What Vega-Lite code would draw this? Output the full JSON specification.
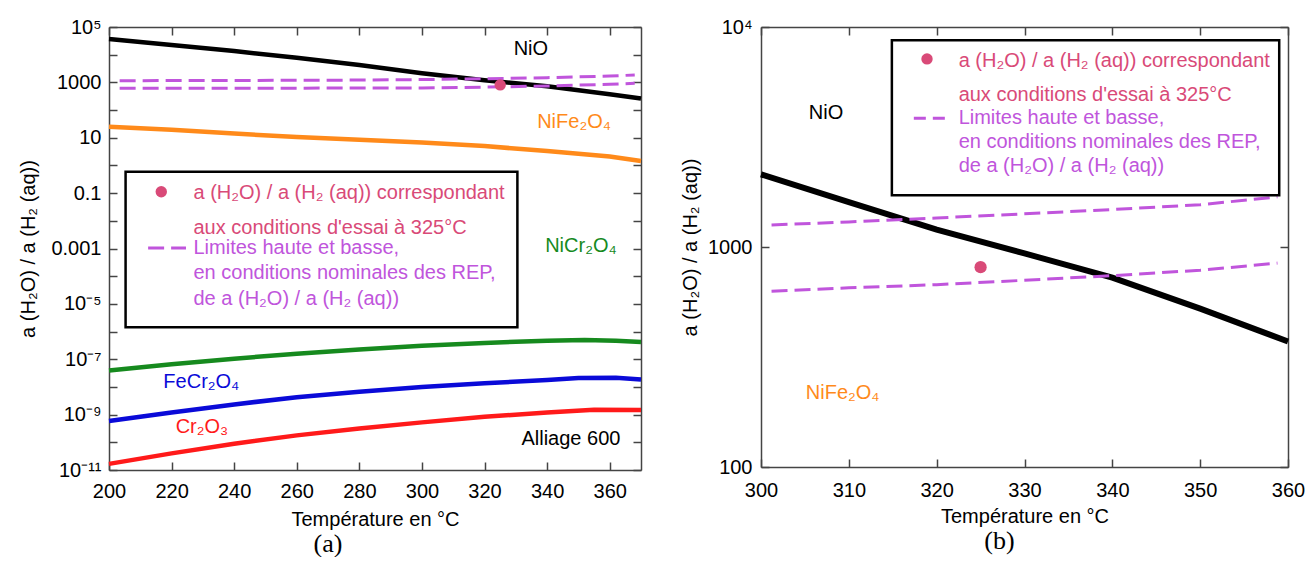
{
  "$schema": "https://vega.github.io/schema/vega-lite/v6.json",
  "background": "white",
  "padding": {"left": 18, "top": 17, "right": 0, "bottom": 0},
  "spacing": 30,
  "config": {
    "view": {"stroke": null},
    "font": "Liberation Sans",
    "axis": {"grid": false, "labelFlush": false, "domainColor": "#444", "domainWidth": 1.5, "tickColor": "#444", "tickWidth": 1.5, "tickSize": -8, "labelColor": "black", "titleColor": "black", "labelFontSize": 20, "titleFontSize": 20, "titleFontWeight": "normal", "labelFont": "Liberation Sans", "titleFont": "Liberation Sans"}
  },
  "datasets": {
    "L": [
      {"T": 200, "v": 37150, "s": "NiO"}, {"T": 210, "v": 28840, "s": "NiO"}, {"T": 220, "v": 22390, "s": "NiO"}, {"T": 240, "v": 13490, "s": "NiO"}, {"T": 260, "v": 7760, "s": "NiO"}, {"T": 280, "v": 4270, "s": "NiO"}, {"T": 300, "v": 2140, "s": "NiO"}, {"T": 320, "v": 1200, "s": "NiO"}, {"T": 340, "v": 725, "s": "NiO"}, {"T": 360, "v": 372, "s": "NiO"}, {"T": 370, "v": 263, "s": "NiO"},
      {"T": 200, "v": 25.1, "s": "NiFe2O4"}, {"T": 220, "v": 19.5, "s": "NiFe2O4"}, {"T": 240, "v": 14.1, "s": "NiFe2O4"}, {"T": 260, "v": 10.7, "s": "NiFe2O4"}, {"T": 280, "v": 8.5, "s": "NiFe2O4"}, {"T": 300, "v": 6.8, "s": "NiFe2O4"}, {"T": 320, "v": 5.0, "s": "NiFe2O4"}, {"T": 340, "v": 3.3, "s": "NiFe2O4"}, {"T": 360, "v": 2.1, "s": "NiFe2O4"}, {"T": 370, "v": 1.45, "s": "NiFe2O4"},
      {"T": 200, "v": 3.9e-8, "s": "NiCr2O4"}, {"T": 220, "v": 6.6e-8, "s": "NiCr2O4"}, {"T": 240, "v": 1.05e-7, "s": "NiCr2O4"}, {"T": 260, "v": 1.58e-7, "s": "NiCr2O4"}, {"T": 280, "v": 2.24e-7, "s": "NiCr2O4"}, {"T": 300, "v": 3.09e-7, "s": "NiCr2O4"}, {"T": 320, "v": 3.89e-7, "s": "NiCr2O4"}, {"T": 340, "v": 4.68e-7, "s": "NiCr2O4"}, {"T": 352, "v": 5.0e-7, "s": "NiCr2O4"}, {"T": 362, "v": 4.68e-7, "s": "NiCr2O4"}, {"T": 370, "v": 4.17e-7, "s": "NiCr2O4"},
      {"T": 200, "v": 5.9e-10, "s": "FeCr2O4"}, {"T": 220, "v": 1.2e-9, "s": "FeCr2O4"}, {"T": 240, "v": 2.34e-9, "s": "FeCr2O4"}, {"T": 260, "v": 4.27e-9, "s": "FeCr2O4"}, {"T": 280, "v": 6.76e-9, "s": "FeCr2O4"}, {"T": 300, "v": 1.0e-8, "s": "FeCr2O4"}, {"T": 320, "v": 1.35e-8, "s": "FeCr2O4"}, {"T": 340, "v": 1.78e-8, "s": "FeCr2O4"}, {"T": 350, "v": 2.09e-8, "s": "FeCr2O4"}, {"T": 362, "v": 2.14e-8, "s": "FeCr2O4"}, {"T": 370, "v": 1.86e-8, "s": "FeCr2O4"},
      {"T": 200, "v": 1.66e-11, "s": "Cr2O3"}, {"T": 220, "v": 3.98e-11, "s": "Cr2O3"}, {"T": 240, "v": 8.9e-11, "s": "Cr2O3"}, {"T": 260, "v": 1.78e-10, "s": "Cr2O3"}, {"T": 280, "v": 3.16e-10, "s": "Cr2O3"}, {"T": 300, "v": 5.25e-10, "s": "Cr2O3"}, {"T": 320, "v": 8.3e-10, "s": "Cr2O3"}, {"T": 340, "v": 1.2e-9, "s": "Cr2O3"}, {"T": 355, "v": 1.51e-9, "s": "Cr2O3"}, {"T": 370, "v": 1.48e-9, "s": "Cr2O3"}
    ],
    "LD": [
      {"T": 203.4, "v": 1150, "s": "haut"}, {"T": 240, "v": 1170, "s": "haut"}, {"T": 280, "v": 1210, "s": "haut"}, {"T": 300, "v": 1260, "s": "haut"}, {"T": 320, "v": 1355, "s": "haut"}, {"T": 340, "v": 1480, "s": "haut"}, {"T": 360, "v": 1690, "s": "haut"}, {"T": 368, "v": 1850, "s": "haut"},
      {"T": 203.4, "v": 615, "s": "bas"}, {"T": 240, "v": 617, "s": "bas"}, {"T": 280, "v": 622, "s": "bas"}, {"T": 300, "v": 630, "s": "bas"}, {"T": 320, "v": 674, "s": "bas"}, {"T": 340, "v": 741, "s": "bas"}, {"T": 360, "v": 850, "s": "bas"}, {"T": 368, "v": 930, "s": "bas"}
    ],
    "P": [{"T": 325, "v": 810}],
    "LT": [
      {"T": 334.8, "v": 16200, "label": "NiO", "s": "NiO"},
      {"T": 348.6, "v": 37, "label": "NiFe₂O₄", "s": "NiFe2O4"},
      {"T": 350.8, "v": 0.00127, "label": "NiCr₂O₄", "s": "NiCr2O4"},
      {"T": 229.5, "v": 1.48e-8, "label": "FeCr₂O₄", "s": "FeCr2O4"},
      {"T": 229.7, "v": 3.55e-10, "label": "Cr₂O₃", "s": "Cr2O3"},
      {"T": 347.6, "v": 1.35e-10, "label": "Alliage 600", "s": "Alliage"}
    ],
    "LB": [{"T": 205.3, "T2": 330.5, "v": 0.597, "v2": 1.44e-6}],
    "LLD": [{"T": 216.7, "v": 0.112}],
    "LLR": [{"T": 212.5, "T2": 224.6, "v": 0.00105}],
    "LLT": [
      {"T": 227, "v": 0.102, "label": "a (H₂O) / a (H₂ (aq)) correspondant", "s": "essai"},
      {"T": 227, "v": 0.0055, "label": "aux conditions d'essai à 325°C", "s": "essai"},
      {"T": 227, "v": 0.00105, "label": "Limites haute et basse,", "s": "REP"},
      {"T": 227, "v": 0.000129, "label": "en conditions nominales des REP,", "s": "REP"},
      {"T": 227, "v": 0.0000151, "label": "de a (H₂O) / a (H₂ (aq))", "s": "REP"}
    ],
    "R": [
      {"T": 300, "v": 2140, "s": "NiO"}, {"T": 310, "v": 1600, "s": "NiO"}, {"T": 320, "v": 1200, "s": "NiO"}, {"T": 330, "v": 935, "s": "NiO"}, {"T": 340, "v": 725, "s": "NiO"}, {"T": 350, "v": 525, "s": "NiO"}, {"T": 360, "v": 372, "s": "NiO"}
    ],
    "RD": [
      {"T": 301.2, "v": 1260, "s": "haut"}, {"T": 310, "v": 1300, "s": "haut"}, {"T": 320, "v": 1355, "s": "haut"}, {"T": 330, "v": 1415, "s": "haut"}, {"T": 340, "v": 1480, "s": "haut"}, {"T": 350, "v": 1556, "s": "haut"}, {"T": 358.8, "v": 1690, "s": "haut"},
      {"T": 301.2, "v": 630, "s": "bas"}, {"T": 310, "v": 652, "s": "bas"}, {"T": 320, "v": 674, "s": "bas"}, {"T": 330, "v": 706, "s": "bas"}, {"T": 340, "v": 741, "s": "bas"}, {"T": 350, "v": 784, "s": "bas"}, {"T": 358.8, "v": 845, "s": "bas"}
    ],
    "RT": [
      {"T": 307.4, "v": 4070, "label": "NiO", "s": "NiO"},
      {"T": 309.3, "v": 217, "label": "NiFe₂O₄", "s": "NiFe2O4"}
    ],
    "RB": [{"T": 314.9, "T2": 359.0, "v": 8710, "v2": 1718}],
    "RLD": [{"T": 318.9, "v": 7160}],
    "RLR": [{"T": 317.4, "T2": 321.6, "v": 3850}],
    "RLT": [
      {"T": 322.5, "v": 6980, "label": "a (H₂O) / a (H₂ (aq)) correspondant", "s": "essai"},
      {"T": 322.5, "v": 4900, "label": "aux conditions d'essai à 325°C", "s": "essai"},
      {"T": 322.5, "v": 3850, "label": "Limites haute et basse,", "s": "REP"},
      {"T": 322.5, "v": 2990, "label": "en conditions nominales des REP,", "s": "REP"},
      {"T": 322.5, "v": 2330, "label": "de a (H₂O) / a (H₂ (aq))", "s": "REP"}
    ]
  },
  "hconcat": [
    {
      "width": 532,
      "height": 443,
      "title": {"text": "(a)", "orient": "bottom", "anchor": "middle", "font": "Liberation Serif", "fontSize": 26, "fontWeight": "normal", "color": "black", "offset": 2, "dx": -47},
      "encoding": {
        "x": {"field": "T", "type": "quantitative", "scale": {"domain": [200, 370], "nice": false, "zero": false}, "axis": null},
        "y": {"field": "v", "type": "quantitative", "scale": {"type": "log", "domain": [1e-11, 100000], "nice": false}, "axis": null},
        "color": {"field": "s", "type": "nominal", "legend": null, "scale": {"domain": ["NiO", "NiFe2O4", "NiCr2O4", "FeCr2O4", "Cr2O3", "REP", "essai", "Alliage"], "range": ["#000000", "#ff8a1a", "#168a1e", "#0a0ad8", "#ff1a1a", "#c055dc", "#d94a78", "#000000"]}}
      },
      "resolve": {"axis": {"x": "independent", "y": "independent"}},
      "layer": [
        {
          "data": {"name": "L"},
          "mark": {"type": "line", "strokeWidth": 4.5},
          "encoding": {
            "x": {"field": "T", "type": "quantitative", "scale": {"domain": [200, 370], "nice": false, "zero": false}, "axis": {"title": "Température en °C", "values": [200, 220, 240, 260, 280, 300, 320, 340, 360], "labelPadding": 19, "titlePadding": 8}},
            "y": {"field": "v", "type": "quantitative", "scale": {"type": "log", "domain": [1e-11, 100000], "nice": false}, "axis": {"title": "a (H₂O) / a (H₂ (aq))", "values": [1e-11, 1e-10, 1e-9, 1e-8, 1e-7, 1e-6, 1e-5, 1e-4, 1e-3, 1e-2, 0.1, 1, 10, 100, 1000, 10000, 100000], "labelPadding": 16, "titlePadding": 12, "labelExpr": "round(log(datum.value)/LN10)==5?'10⁵':round(log(datum.value)/LN10)==3?'1000':round(log(datum.value)/LN10)==1?'10':round(log(datum.value)/LN10)==-1?'0.1':round(log(datum.value)/LN10)==-3?'0.001':round(log(datum.value)/LN10)==-5?'10⁻⁵':round(log(datum.value)/LN10)==-7?'10⁻⁷':round(log(datum.value)/LN10)==-9?'10⁻⁹':round(log(datum.value)/LN10)==-11?'10⁻¹¹':''"}},
            "detail": {"field": "s"}
          }
        },
        {
          "data": {"name": "L"},
          "mark": {"type": "point", "opacity": 0},
          "encoding": {
            "x": {"field": "T", "type": "quantitative", "scale": {"domain": [200, 370], "nice": false, "zero": false}, "axis": {"orient": "top", "title": null, "labels": false, "values": [200, 220, 240, 260, 280, 300, 320, 340, 360]}},
            "y": {"field": "v", "type": "quantitative", "scale": {"type": "log", "domain": [1e-11, 100000], "nice": false}, "axis": {"orient": "right", "title": null, "labels": false, "values": [1e-11, 1e-10, 1e-9, 1e-8, 1e-7, 1e-6, 1e-5, 1e-4, 1e-3, 1e-2, 0.1, 1, 10, 100, 1000, 10000, 100000]}},
            "color": {"value": "transparent"}
          }
        },
        {
          "data": {"name": "LD"},
          "mark": {"type": "line", "strokeWidth": 3, "strokeDash": [16, 7]},
          "encoding": {"detail": {"field": "s"}, "color": {"value": "#c055dc"}}
        },
        {
          "data": {"name": "P"},
          "mark": {"type": "circle", "size": 130, "opacity": 1},
          "encoding": {"color": {"value": "#d94a78"}}
        },
        {
          "data": {"name": "LT"},
          "mark": {"type": "text", "fontSize": 20, "align": "center", "baseline": "middle"},
          "encoding": {"text": {"field": "label"}}
        },
        {
          "data": {"name": "LB"},
          "mark": {"type": "rect", "fill": "white", "stroke": "black", "strokeWidth": 2.5},
          "encoding": {"x2": {"field": "T2"}, "y2": {"field": "v2"}, "color": {"value": "black"}, "fill": {"value": "white"}}
        },
        {
          "data": {"name": "LLD"},
          "mark": {"type": "circle", "size": 130, "opacity": 1},
          "encoding": {"color": {"value": "#d94a78"}}
        },
        {
          "data": {"name": "LLR"},
          "mark": {"type": "rule", "strokeWidth": 3, "strokeDash": [16, 7]},
          "encoding": {"x2": {"field": "T2"}, "color": {"value": "#c055dc"}}
        },
        {
          "data": {"name": "LLT"},
          "mark": {"type": "text", "fontSize": 20, "align": "left", "baseline": "middle"},
          "encoding": {"text": {"field": "label"}}
        }
      ]
    },
    {
      "width": 527,
      "height": 440,
      "title": {"text": "(b)", "orient": "bottom", "anchor": "middle", "font": "Liberation Serif", "fontSize": 26, "fontWeight": "normal", "color": "black", "offset": 2, "dx": -25},
      "encoding": {
        "x": {"field": "T", "type": "quantitative", "scale": {"domain": [300, 360], "nice": false, "zero": false}, "axis": null},
        "y": {"field": "v", "type": "quantitative", "scale": {"type": "log", "domain": [100, 10000], "nice": false}, "axis": null},
        "color": {"field": "s", "type": "nominal", "legend": null, "scale": {"domain": ["NiO", "NiFe2O4", "NiCr2O4", "FeCr2O4", "Cr2O3", "REP", "essai", "Alliage"], "range": ["#000000", "#ff8a1a", "#168a1e", "#0a0ad8", "#ff1a1a", "#c055dc", "#d94a78", "#000000"]}}
      },
      "resolve": {"axis": {"x": "independent", "y": "independent"}},
      "layer": [
        {
          "data": {"name": "R"},
          "mark": {"type": "line", "strokeWidth": 6},
          "encoding": {
            "x": {"field": "T", "type": "quantitative", "scale": {"domain": [300, 360], "nice": false, "zero": false}, "axis": {"title": "Température en °C", "values": [300, 310, 320, 330, 340, 350, 360], "labelPadding": 21, "titlePadding": 6}},
            "y": {"field": "v", "type": "quantitative", "scale": {"type": "log", "domain": [100, 10000], "nice": false}, "axis": {"title": "a (H₂O) / a (H₂ (aq))", "values": [100, 1000, 10000], "labelPadding": 17, "titlePadding": 7, "labelExpr": "datum.value>5000?'10⁴':datum.value>500?'1000':'100'"}},
            "detail": {"field": "s"}
          }
        },
        {
          "data": {"name": "R"},
          "mark": {"type": "point", "opacity": 0},
          "encoding": {
            "x": {"field": "T", "type": "quantitative", "scale": {"domain": [300, 360], "nice": false, "zero": false}, "axis": {"orient": "top", "title": null, "labels": false, "values": [300, 310, 320, 330, 340, 350, 360]}},
            "y": {"field": "v", "type": "quantitative", "scale": {"type": "log", "domain": [100, 10000], "nice": false}, "axis": {"orient": "right", "title": null, "labels": false, "values": [100, 1000, 10000]}},
            "color": {"value": "transparent"}
          }
        },
        {
          "data": {"name": "RD"},
          "mark": {"type": "line", "strokeWidth": 3, "strokeDash": [16, 7]},
          "encoding": {"detail": {"field": "s"}, "color": {"value": "#c055dc"}}
        },
        {
          "data": {"name": "P"},
          "mark": {"type": "circle", "size": 150, "opacity": 1},
          "encoding": {"color": {"value": "#d94a78"}}
        },
        {
          "data": {"name": "RT"},
          "mark": {"type": "text", "fontSize": 20, "align": "center", "baseline": "middle"},
          "encoding": {"text": {"field": "label"}}
        },
        {
          "data": {"name": "RB"},
          "mark": {"type": "rect", "fill": "white", "stroke": "black", "strokeWidth": 2.5},
          "encoding": {"x2": {"field": "T2"}, "y2": {"field": "v2"}, "color": {"value": "black"}, "fill": {"value": "white"}}
        },
        {
          "data": {"name": "RLD"},
          "mark": {"type": "circle", "size": 130, "opacity": 1},
          "encoding": {"color": {"value": "#d94a78"}}
        },
        {
          "data": {"name": "RLR"},
          "mark": {"type": "rule", "strokeWidth": 3, "strokeDash": [12, 7]},
          "encoding": {"x2": {"field": "T2"}, "color": {"value": "#c055dc"}}
        },
        {
          "data": {"name": "RLT"},
          "mark": {"type": "text", "fontSize": 20, "align": "left", "baseline": "middle"},
          "encoding": {"text": {"field": "label"}}
        }
      ]
    }
  ]
}
